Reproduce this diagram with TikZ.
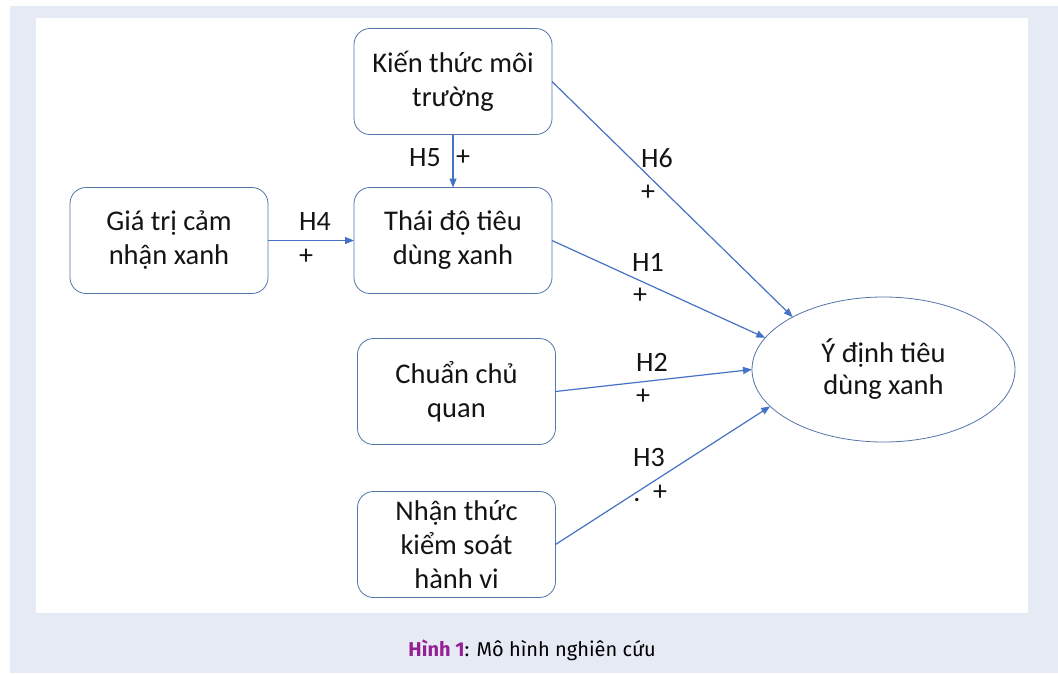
\documentclass[tikz,border=0pt]{standalone}
\usepackage{fontspec}
\setmainfont{Carlito}
\newfontfamily\capfont{Fira Sans}
\usetikzlibrary{arrows.meta,shapes.geometric}
\definecolor{bgblue}{RGB}{230,234,245}
\definecolor{boxline}{RGB}{84,116,170}
\definecolor{arrowblue}{RGB}{68,114,196}
\definecolor{capurple}{RGB}{148,32,148}
\definecolor{textc}{RGB}{20,20,20}
\begin{document}
\begin{tikzpicture}[x=1pt,y=-1pt,
  box/.style={draw=boxline, line width=0.8pt, rounded corners=16pt, minimum width=198pt, minimum height=106pt, inner sep=0pt, outer sep=0pt, align=center, font=\fontsize{28.5}{34}\selectfont, text=textc},
  ellbox/.style={draw=boxline, line width=0.8pt, ellipse, minimum width=263pt, minimum height=145pt, inner sep=0pt, outer sep=0pt, align=center, font=\fontsize{28.5}{32}\selectfont, text=textc},
  lbl/.style={inner sep=0pt, font=\fontsize{28}{34}\selectfont, text=textc},
  conn/.style={draw=arrowblue, line width=1.2pt, -{Triangle[length=9pt,width=7pt]}}]
\useasboundingbox (0,0) rectangle (1058,673);
\fill[white] (0,0) rectangle (1058,673);
\fill[bgblue] (10,6) rectangle (1058,673);
\fill[white] (36,18) rectangle (1028,613);

\node[box] (kien) at (453,81.5) {Kiến thức môi\\trường};
\node[box] (thai) at (453,240.5) {Thái độ tiêu\\dùng xanh};
\node[box] (gia) at (169,240.5) {Giá trị cảm\\nhận xanh};
\node[box] (chuan) at (456.5,391.5) {Chuẩn chủ\\quan};
\node[box] (nhan) at (456.5,544.5) {Nhận thức\\kiểm soát\\hành vi};
\node[ellbox] (y) at (883.5,369.5) {Ý định tiêu\\dùng xanh};

\draw[conn] (kien) -- (thai);
\draw[conn] (gia) -- (thai);
\draw[conn] (kien.east) -- (y.150);
\draw[conn] (thai.east) -- (y.165);
\draw[conn] (chuan.east) -- (y.180);
\draw[conn] (nhan.east) -- (y.198);

\node[lbl] (h5) at (425,158) {H5};
\node[lbl] (p5) at (463,158) {+};
\node[lbl] (h4) at (315,222) {H4};
\node[lbl] (p4) at (306,257) {+};
\node[lbl] (h6) at (657,158) {H6};
\node[lbl] (p6) at (648,193) {+};
\node[lbl] (h1) at (648,262) {H1};
\node[lbl] (p1) at (640,296) {+};
\node[lbl] (h2) at (652,362) {H2};
\node[lbl] (p2) at (643,397) {+};
\node[lbl] (h3) at (649,458) {H3};
\node[lbl] (p3) at (660,493) {+};
\node[lbl, anchor=base] (d3) at (637,501) {.};

\node[inner sep=0pt, font=\capfont\fontsize{20}{24}\selectfont, text=black] (cap) at (532,650) {\textcolor{capurple}{\bfseries Hình 1}: Mô hình nghiên cứu};
\end{tikzpicture}
\end{document}
